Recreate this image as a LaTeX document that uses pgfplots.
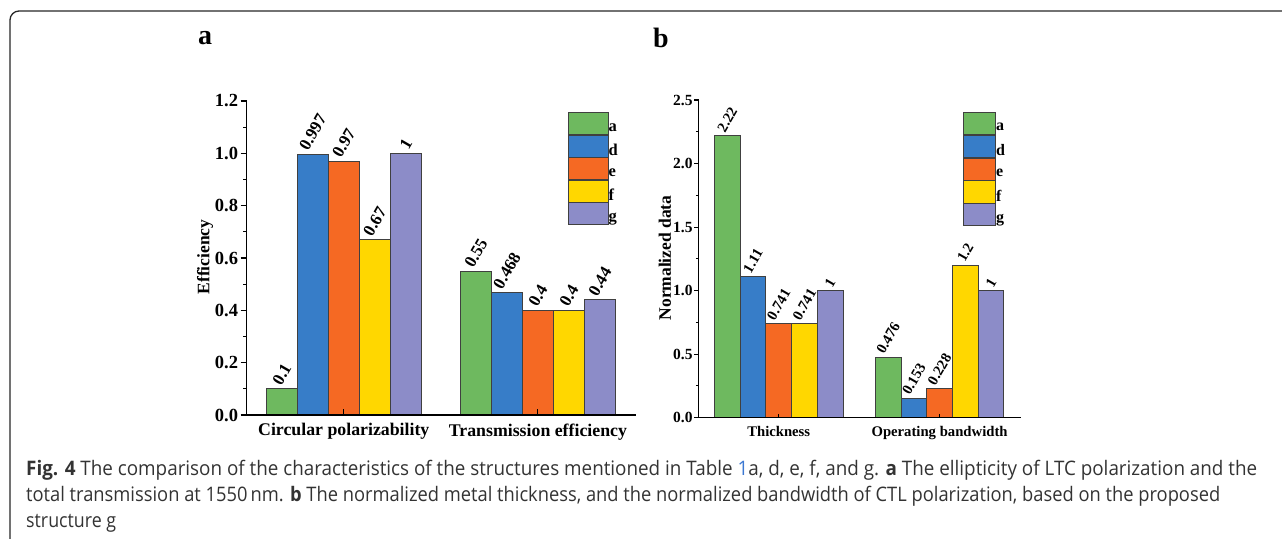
\documentclass[border=0pt]{standalone}
\usepackage{pgfplots}
\pgfplotsset{compat=1.18}
\usepackage{fontspec}
\usepackage{graphicx}
\setmainfont{Liberation Serif}
\newfontfamily\capfont{Open Sans}
\definecolor{cA}{RGB}{110,185,95}
\definecolor{cD}{RGB}{55,125,200}
\definecolor{cE}{RGB}{245,105,35}
\definecolor{cF}{RGB}{255,215,0}
\definecolor{cG}{RGB}{140,140,200}
\definecolor{linkblue}{RGB}{60,120,210}
\pgfplotsset{
  common/.style={
    scale only axis, axis lines=left, axis line style={draw=none},
    xmin=-0.5, xmax=1.5, ymin=0, xtick={0,1},
    ybar, axis on top,
    tick align=outside,
    tick style={line width=1.1pt, black},
    minor y tick num=1,
    /pgf/number format/assume math mode=true,
    yticklabel style={/pgf/number format/fixed, /pgf/number format/fixed zerofill, /pgf/number format/precision=1},
    ylabel style={anchor=center},
    nodes near coords={\rotatebox{60}{\pgfplotspointmeta}},
    point meta=explicit symbolic,
    every node near coord/.append style={inner sep=2pt, black},
    legend cell align=left,
    legend style={draw=none, fill=none, inner sep=0pt, outer sep=0pt, row sep=0pt,
      anchor=north west,
      nodes={inner sep=0pt, outer sep=0pt},
      /tikz/every even column/.append style={column sep=6pt}},
    extra description/.code={\draw[line width=1.3pt, black, line cap=rect] (rel axis cs:0,1) -- (rel axis cs:0,0) -- (rel axis cs:1,0);},
  },
}
\begin{document}
\begin{tikzpicture}
\useasboundingbox (0,0) rectangle (1282pt,-538pt);
\draw[line width=1.3pt, black!85, rounded corners=9pt] (10pt,-545pt) -- (10pt,-11pt) -- (1295pt,-11pt);
\node[font=\bfseries\fontsize{28}{28}\selectfont] at (205pt,-38pt) {a};
\node[font=\bfseries\fontsize{28}{28}\selectfont] at (661pt,-38pt) {b};
% panel a
\begin{axis}[common,
  at={(246.7pt,-415pt)}, anchor=south west,
  width=388.3pt, height=314pt,
  major tick length=6pt, minor tick length=3.5pt,
  xtick style={yshift=6pt},
  ymax=1.2, ytick={0,0.2,...,1.2},
  yticklabel style={font=\bfseries\fontsize{18.5}{18.5}\selectfont, inner sep=2.5pt},
  xticklabel style={font=\bfseries\fontsize{17.8}{17.8}\selectfont, yshift=1pt},
  xticklabels={Circular polarizability, Transmission efficiency},
  ylabel={Efficiency},
  ylabel style={font=\bfseries\fontsize{17.5}{17.5}\selectfont, at={(axis description cs:-0.107,0.503)}},
  every node near coord/.append style={font=\bfseries\fontsize{17}{17}\selectfont},
  legend style={at={(axis description cs:0.8275,0.964)}, nodes={font=\bfseries\fontsize{16.5}{16.5}\selectfont}},
  legend image code/.code={\draw[#1,draw=black!75,line width=0.8pt] (0pt,-6.35pt) rectangle (39.7pt,15.35pt);},
]
\addplot[fill=cA, draw=black!75, line width=0.8pt, bar width=31pt, bar shift=-62pt] coordinates {(0,0.1) [0.1] (1,0.55) [0.55]};
\addplot[fill=cD, draw=black!75, line width=0.8pt, bar width=31pt, bar shift=-31pt] coordinates {(0,0.997) [0.997] (1,0.468) [0.468]};
\addplot[fill=cE, draw=black!75, line width=0.8pt, bar width=31pt, bar shift=0pt] coordinates {(0,0.97) [0.97] (1,0.4) [0.4]};
\addplot[fill=cF, draw=black!75, line width=0.8pt, bar width=31pt, bar shift=31pt] coordinates {(0,0.67) [0.67] (1,0.4) [0.4]};
\addplot[fill=cG, draw=black!75, line width=0.8pt, bar width=31pt, bar shift=62pt] coordinates {(0,1) [1] (1,0.44) [0.44]};
\legend{a,d,e,f,g}
\end{axis}
% panel b
\begin{axis}[common,
  at={(698.3pt,-417.7pt)}, anchor=south west,
  width=321.7pt, height=317.7pt,
  major tick length=4pt, minor tick length=2.5pt,
  xtick style={yshift=4pt},
  ymax=2.5, ytick={0,0.5,...,2.5},
  yticklabel style={font=\bfseries\fontsize{15.5}{15.5}\selectfont, inner sep=1.5pt},
  xticklabel style={font=\bfseries\fontsize{14.7}{14.7}\selectfont, yshift=-1pt},
  xticklabels={Thickness, Operating bandwidth},
  ylabel={Normalized data},
  ylabel style={font=\bfseries\fontsize{17.5}{17.5}\selectfont, at={(axis description cs:-0.104,0.503)}},
  every node near coord/.append style={font=\bfseries\fontsize{14.7}{14.7}\selectfont},
  legend style={at={(axis description cs:0.822,0.963)}, nodes={font=\bfseries\fontsize{16}{16}\selectfont}},
  legend image code/.code={\draw[#1,draw=black!75,line width=0.8pt] (0pt,-6.55pt) rectangle (32.6pt,15.55pt);},
]
\addplot[fill=cA, draw=black!75, line width=0.8pt, bar width=25.7pt, bar shift=-51.4pt] coordinates {(0,2.22) [2.22] (1,0.476) [0.476]};
\addplot[fill=cD, draw=black!75, line width=0.8pt, bar width=25.7pt, bar shift=-25.7pt] coordinates {(0,1.11) [1.11] (1,0.153) [0.153]};
\addplot[fill=cE, draw=black!75, line width=0.8pt, bar width=25.7pt, bar shift=0pt] coordinates {(0,0.741) [0.741] (1,0.228) [0.228]};
\addplot[fill=cF, draw=black!75, line width=0.8pt, bar width=25.7pt, bar shift=25.7pt] coordinates {(0,0.741) [0.741] (1,1.2) [1.2]};
\addplot[fill=cG, draw=black!75, line width=0.8pt, bar width=25.7pt, bar shift=51.4pt] coordinates {(0,1) [1] (1,1) [1]};
\legend{a,d,e,f,g}
\end{axis}
% caption
\node[anchor=base west, inner sep=0pt, text=black!80] at (26pt,-475pt) {\resizebox{1231pt}{\height}{\capfont\fontsize{20}{24}\selectfont\textbf{Fig. 4} The comparison of the characteristics of the structures mentioned in Table \textcolor{linkblue}{1}a, d, e, f, and g. \textbf{a} The ellipticity of LTC polarization and the}};
\node[anchor=base west, inner sep=0pt, text=black!80] at (26pt,-501pt) {\resizebox{1194pt}{\height}{\capfont\fontsize{20}{24}\selectfont total transmission at 1550\,nm. \textbf{b} The normalized metal thickness, and the normalized bandwidth of CTL polarization, based on the proposed}};
\node[anchor=base west, inner sep=0pt, text=black!80] at (26pt,-527pt) {\resizebox{90pt}{\height}{\capfont\fontsize{20}{24}\selectfont structure g}};
\end{tikzpicture}
\end{document}
